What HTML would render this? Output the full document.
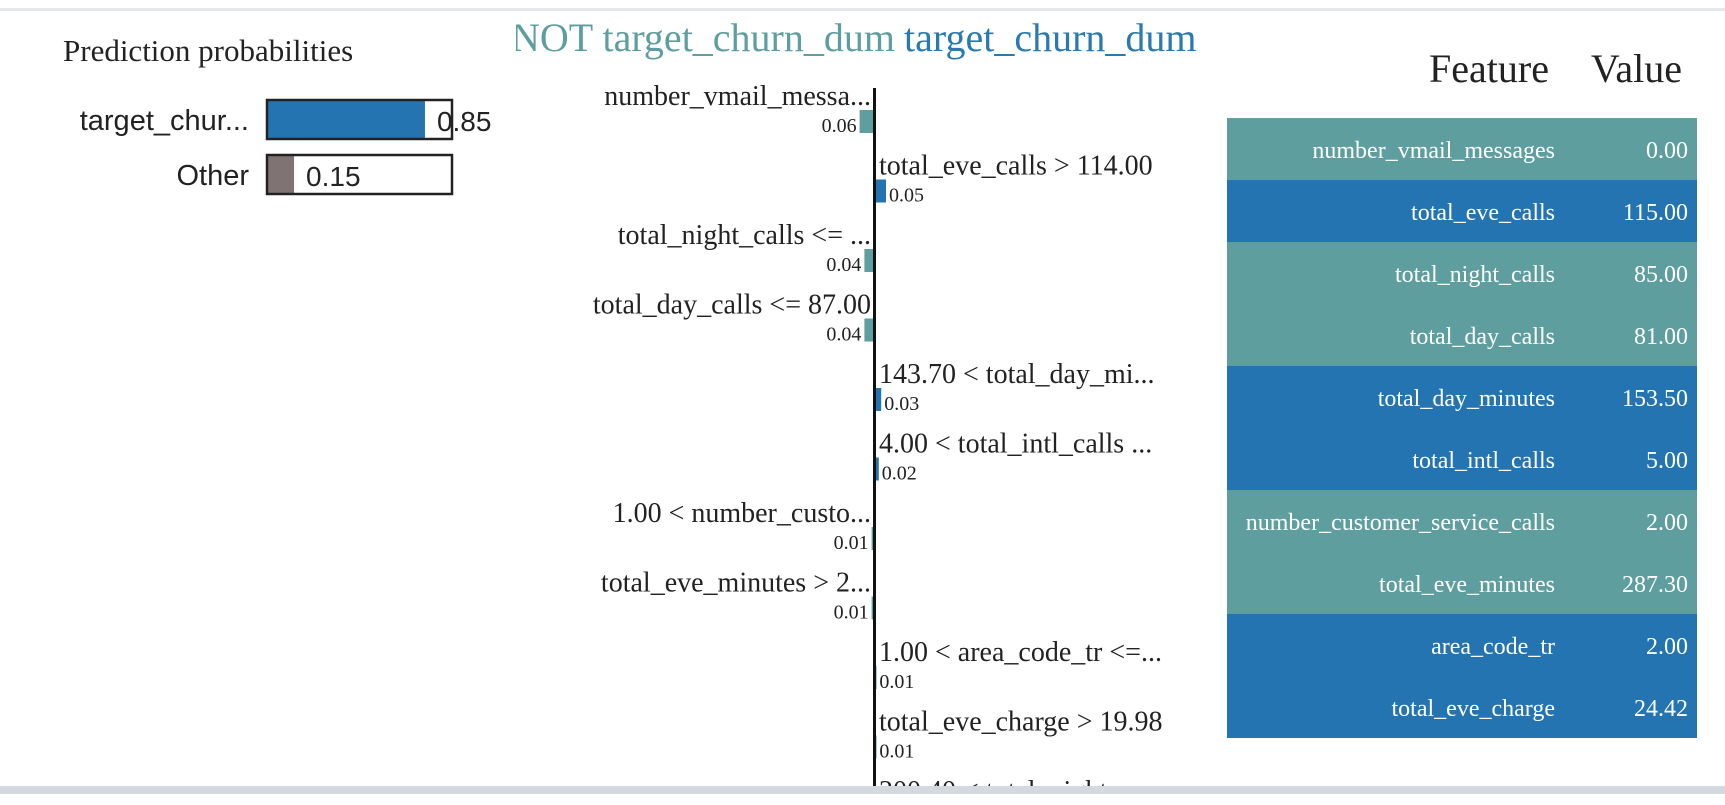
<!DOCTYPE html>
<html><head><meta charset="utf-8"><style>
html,body{margin:0;padding:0;background:#fff;width:1725px;height:805px;overflow:hidden}
svg{display:block}
.serif{font-family:"Liberation Serif",serif}
.sans{font-family:"Liberation Sans",sans-serif}
</style></head><body>
<svg id="chart" width="1725" height="805" viewBox="0 0 1725 805" xmlns="http://www.w3.org/2000/svg">
<rect x="0" y="8" width="1725" height="3" fill="#e4e8ea"/>
<text class="serif" x="63" y="61" font-size="31" fill="#222">Prediction probabilities</text>
<g id="probs"></g>
<svg x="516" y="0" width="700" height="80" overflow="hidden">
<text class="serif" x="379" y="51" font-size="40" text-anchor="end" fill="#5f9ea0">NOT target_churn_dum</text>
<text class="serif" x="388" y="51" font-size="40" fill="#2a7ab0">target_churn_dum</text>
</svg>
<g id="feat"></g>
<rect x="873" y="88" width="3" height="717" fill="#111"/>
<text class="serif" x="1549" y="82" font-size="40" text-anchor="end" fill="#222">Feature</text>
<text class="serif" x="1682" y="82" font-size="40" text-anchor="end" fill="#222">Value</text>
<g id="table"></g>
<rect x="0" y="786" width="1725" height="8" fill="#d3dadd"/>
<rect x="0" y="794" width="1725" height="11" fill="#fff"/>
</svg>
<script>
const probClasses = ["target_chur...", "Other"];
const probValues = [0.85, 0.15];
const featLabels = ["number_vmail_messa...", "total_eve_calls > 114.00", "total_night_calls <= ...", "total_day_calls <= 87.00", "143.70 < total_day_mi...", "4.00 < total_intl_calls ...", "1.00 < number_custo...", "total_eve_minutes > 2...", "1.00 < area_code_tr <=...", "total_eve_charge > 19.98", "200.40 < total_night..."];
const featWeights = [-0.06, 0.05, -0.04, -0.04, 0.03, 0.02, -0.01, -0.01, 0.01, 0.01, 0.01];
const tableFeatures = ["number_vmail_messages", "total_eve_calls", "total_night_calls", "total_day_calls", "total_day_minutes", "total_intl_calls", "number_customer_service_calls", "total_eve_minutes", "area_code_tr", "total_eve_charge"];
const tableValues = ["0.00", "115.00", "85.00", "81.00", "153.50", "5.00", "2.00", "287.30", "2.00", "24.42"];
const tableSign = [-1, 1, -1, -1, 1, 1, -1, -1, 1, 1];

const NS = "http://www.w3.org/2000/svg";
const TEAL = "#5f9e9f", BLUE = "#2474b2";
function mk(tag, attrs, parent, text) {
  const e = document.createElementNS(NS, tag);
  for (const k in attrs) e.setAttribute(k, attrs[k]);
  if (text !== undefined) e.textContent = text;
  parent.appendChild(e);
  return e;
}
// probability bars
const pg = document.getElementById("probs");
const pX = v => 266 + v * 187;
probClasses.forEach((c, i) => {
  const y = 99 + i * 55;
  const l = mk("text", {x: 249, y: y + 31, "font-size": 29, "text-anchor": "end", fill: "#222", class: "sans"}, pg, c);
  
  
  const f = mk("rect", {x: 266, y: y, width: pX(probValues[i]) - 266, height: 41, fill: i === 0 ? BLUE : "#7f7473"}, pg);
  
  
  const b = mk("rect", {x: 267, y: y + 1, width: 185, height: 39, fill: "none", stroke: "#222", "stroke-width": 2.5}, pg);
  
  
  const t = mk("text", {x: pX(probValues[i]) + 12, y: y + 32, "font-size": 28, fill: "#222", class: "sans"}, pg, probValues[i].toFixed(2));
  
  
});
// feature contributions
const fg = document.getElementById("feat");
const AX = 874, SCALE = 240, ROW0 = 96, ROWH = 69.5;
const wX = w => AX + w * SCALE;
featLabels.forEach((lab, i) => {
  const cy = ROW0 + i * ROWH;
  const w = featWeights[i];
  const pos = w > 0;
  const l = mk("text", {x: pos ? 879 : 871, y: cy + 9, "font-size": 28, "text-anchor": pos ? "start" : "end", fill: "#222", class: "serif"}, fg, lab);
  
  
  const x0 = Math.min(AX, wX(w)), bw = Math.abs(wX(w) - AX);
  const r = mk("rect", {x: x0, y: cy + 14, width: Math.max(bw, 2), height: 23, fill: pos ? BLUE : TEAL}, fg);
  
  
  const vt = mk("text", {x: pos ? wX(w) + 3 : wX(w) - 3, y: cy + 36, "font-size": 20, "text-anchor": pos ? "start" : "end", fill: "#222", class: "serif"}, fg, Math.abs(w).toFixed(2));
  
  
});
// table
const tg = document.getElementById("table");
tableFeatures.forEach((f, i) => {
  const y = 118 + i * 62;
  const r = mk("rect", {x: 1227, y: y, width: 470, height: 62, fill: tableSign[i] > 0 ? BLUE : TEAL}, tg);
  
  
  const a = mk("text", {x: 1555, y: y + 40, "font-size": 24, "text-anchor": "end", fill: "#fff", class: "serif"}, tg, f);
  
  
  const b = mk("text", {x: 1688, y: y + 40, "font-size": 24, "text-anchor": "end", fill: "#fff", class: "serif"}, tg, tableValues[i]);
  
  
});
</script>
</body></html>
